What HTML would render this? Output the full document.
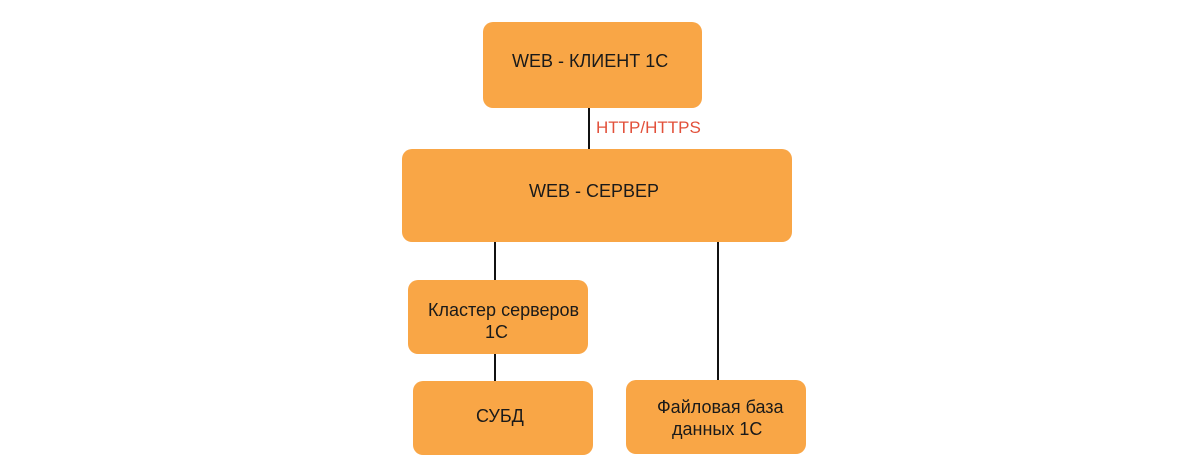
<!DOCTYPE html>
<html><head><meta charset="utf-8"><style>
body{margin:0;width:1200px;height:476px;background:#fff;position:relative;overflow:hidden;font-family:"Liberation Sans",sans-serif;color:#1a1a1a}
.b{position:absolute;background:#F9A646;border-radius:10px}
.t{position:absolute;font-size:18px;white-space:nowrap}
.l{position:absolute;width:2px;background:#111}
</style></head><body>
<div class="l" style="left:588px;top:106px;height:45px"></div>
<div class="l" style="left:494px;top:240px;height:42px"></div>
<div class="l" style="left:494px;top:352px;height:30px"></div>
<div class="l" style="left:717px;top:240px;height:143px"></div>
<div class="b" style="left:483px;top:22px;width:219px;height:86px"></div>
<div class="b" style="left:402px;top:149px;width:390px;height:93px"></div>
<div class="b" style="left:408px;top:280px;width:180px;height:74px"></div>
<div class="b" style="left:413px;top:381px;width:180px;height:74px"></div>
<div class="b" style="left:626px;top:380px;width:180px;height:74px"></div>
<div class="t" style="left:512px;top:51px">WEB - КЛИЕНТ 1С</div>
<div class="t" style="left:596px;top:118px;color:#E2503A;font-size:17px">HTTP/HTTPS</div>
<div class="t" style="left:529px;top:181px">WEB - СЕРВЕР</div>
<div class="t" style="left:428px;top:300px">Кластер серверов</div>
<div class="t" style="left:485px;top:322px">1С</div>
<div class="t" style="left:476px;top:406px">СУБД</div>
<div class="t" style="left:657px;top:397px">Файловая база</div>
<div class="t" style="left:672px;top:419px">данных 1С</div>
</body></html>
